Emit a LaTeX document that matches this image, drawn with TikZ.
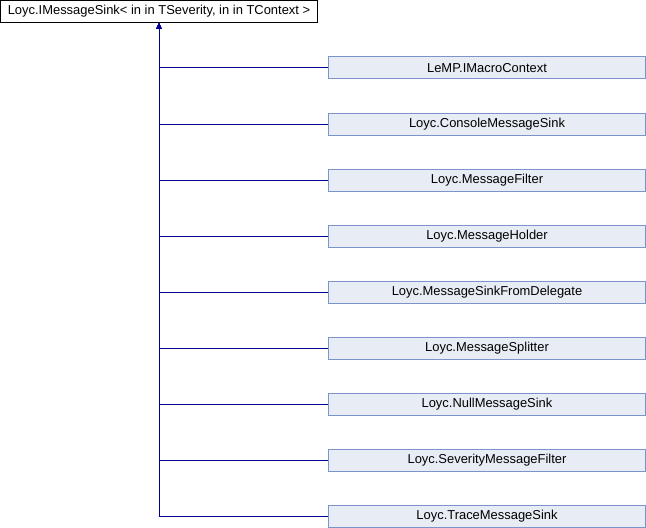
\documentclass[tikz,border=0pt]{standalone}
\usepackage{fontspec}
\setmainfont{Liberation Sans}
\usepackage{tikz}
\usetikzlibrary{arrows.meta, positioning}

\definecolor{edgeblue}{RGB}{0,0,150}
\definecolor{boxfill}{RGB}{232,236,245}
\definecolor{boxdraw}{RGB}{124,148,204}

\tikzset{
	baseclass/.style={draw=black, fill=white, line width=0.75pt, minimum width=237.75pt, minimum height=16.5pt, inner sep=0pt, font=\fontsize{9.7}{11}\selectfont},
	subclass/.style={draw=boxdraw, fill=boxfill, line width=0.75pt, minimum width=237.75pt, minimum height=16.5pt, inner sep=0pt, font=\fontsize{9.7}{11}\selectfont},
	inherit/.style={draw=edgeblue, line width=0.75pt, -{Triangle[length=4.5pt, width=4pt]}}
}

\begin{document}
\begin{tikzpicture}[x=0.75pt, y=-0.75pt]
	\useasboundingbox (0,0) rectangle (646,528);

	% Basisklasse
	\node[baseclass] (sink) at (159,11.5) {Loyc.IMessageSink< in in TSeverity, in in TContext >};

	% abgeleitete Klassen
	\node[subclass] (macro)    at (487,68)  {LeMP.IMacroContext};
	\node[subclass] (console)  at (487,124) {Loyc.ConsoleMessageSink};
	\node[subclass] (filter)   at (487,180) {Loyc.MessageFilter};
	\node[subclass] (holder)   at (487,236) {Loyc.MessageHolder};
	\node[subclass] (delegate) at (487,292) {Loyc.MessageSinkFromDelegate};
	\node[subclass] (splitter) at (487,348) {Loyc.MessageSplitter};
	\node[subclass] (null)     at (487,404) {Loyc.NullMessageSink};
	\node[subclass] (severity) at (487,460) {Loyc.SeverityMessageFilter};
	\node[subclass] (trace)    at (487,516) {Loyc.TraceMessageSink};

	% Vererbungspfeile
	\draw[inherit] (trace.west)    -| (sink.south);
	\draw[inherit] (severity.west) -| (sink.south);
	\draw[inherit] (null.west)     -| (sink.south);
	\draw[inherit] (splitter.west) -| (sink.south);
	\draw[inherit] (delegate.west) -| (sink.south);
	\draw[inherit] (holder.west)   -| (sink.south);
	\draw[inherit] (filter.west)   -| (sink.south);
	\draw[inherit] (console.west)  -| (sink.south);
	\draw[inherit] (macro.west)    -| (sink.south);
\end{tikzpicture}
\end{document}
